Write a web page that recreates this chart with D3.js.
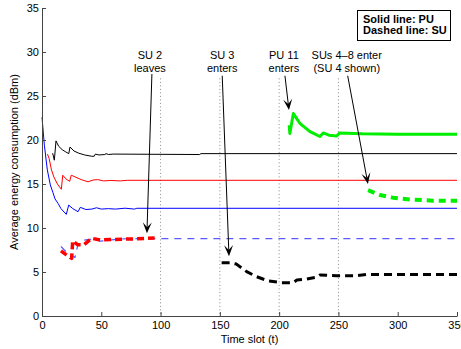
<!DOCTYPE html>
<html>
<head>
<meta charset="utf-8">
<script src="https://cdn.jsdelivr.net/npm/d3@7"></script>
<style>
  body { margin: 0; background: #fff; }
  svg { display: block; font-family: "Liberation Sans", Arial, sans-serif; }
</style>
</head>
<body>
<svg id="chart" width="461" height="349"></svg>
<script>
// values: [time slot, dBm]
var puBlack = [[9,18.5],[10.4,17.7],[11.8,19.9],[14,19.3],[17,18.9],[20,18.65],[22.6,18.45],[23.6,19.2],[27,18.75],[31,18.5],[36,18.3],[42,18.15],[44,18.15],[45,18.4],[48,18.3],[53,18.35],[54,18.45],[56,18.35],[60,18.4],[133,18.35],[134,18.45],[350,18.45]];
var puRed = [[4.6,18.4],[6,17.9],[8,16.6],[10,15.8],[13,15.0],[16.3,14.4],[17.5,16.0],[20,15.6],[23.3,15.3],[24.7,16.0],[28,15.8],[33,15.5],[38.8,15.25],[43,15.45],[47,15.5],[52,15.35],[58,15.4],[66,15.35],[72,15.42],[350,15.42]];
var puBlue = [[0,22.6],[2,19.4],[4.5,16.6],[7,14.9],[9.3,14.0],[11,13.3],[13.5,12.8],[16,12.2],[20.5,11.55],[22.5,12.6],[26,12.2],[30.4,11.85],[32.3,12.35],[37,12.1],[42,12.15],[46,12.3],[50,12.15],[56,12.2],[62,12.15],[70,12.25],[78,12.15],[80,12.24],[350,12.24]];
var puGreen = [[208.5,21.7],[209,20.75],[212,23.0],[217.5,21.9],[226,20.95],[234.4,20.4],[237.2,20.8],[242,20.55],[248.5,20.45],[251,20.8],[270,20.7],[300,20.65],[350,20.65]];
var suBlue = [[16,7.9],[21,7.2],[27.8,6.65],[30,7.95],[34,8.6],[40,8.7],[46,8.75],[49,8.5],[55,8.6],[65,8.75],[80,8.8],[350,8.8]];
var suRed = [[16,7.4],[20,7.0],[25,6.55],[25.9,8.55],[30,8.1],[35,8.07],[41.9,8.83],[49,8.64],[60,8.7],[75,8.75],[95,8.85]];
var suBlack = [[151.5,6.06],[158.5,6.06],[164,5.9],[172.6,5.04],[181,4.47],[190.8,3.98],[202,3.79],[212,3.79],[215,4.1],[223,4.2],[231.6,4.4],[234.4,4.66],[248.5,4.58],[265,4.58],[273.8,4.73],[350,4.73]];
var suGreen = [[275,14.3],[285,13.75],[296,13.45],[310,13.25],[330,13.1],[350,13.1]];

var xTicks = [0, 50, 100, 150, 200, 250, 300, 350];
var yTicks = [0, 5, 10, 15, 20, 25, 30, 35];
var eventSlots = [100, 150, 200, 250];

// annotation: text lines, text anchor (t, v), arrow start and tip (t, v)
var notes = [
  { lines: ["SU 2", "leaves"], at: [91, 29.2], from: [92.7, 27.5], to: [88.5, 9.4] },
  { lines: ["SU 3", "enters"], at: [152, 29.2], from: [152, 27.3], to: [157.7, 6.8] },
  { lines: ["PU 11", "enters"], at: [204, 29.2], from: [204.9, 27.3], to: [208.3, 23.4] },
  { lines: ["SUs 4\u20138 enter", "(SU 4 shown)"], at: [257, 29.2], from: [257.8, 27.3], to: [274.9, 15.0] }
];
var legendLines = ["Solid line: PU", "Dashed line: SU"];

var svg = d3.select("#chart");
var x = d3.scaleLinear().domain([0, 350]).range([42, 457]);
var y = d3.scaleLinear().domain([0, 35]).range([316, 8]);

// event marker lines
svg.selectAll(".evt").data(eventSlots).enter().append("line")
  .attr("x1", function(d) { return x(d); }).attr("x2", function(d) { return x(d); })
  .attr("y1", y(27)).attr("y2", y(0))
  .attr("stroke", "#888").attr("stroke-width", 1).attr("stroke-dasharray", "1,2.5");

var line = d3.line().x(function(d) { return x(d[0]); }).y(function(d) { return y(d[1]); });

var series = [
  { d: suBlue, c: "#5a5aff", w: 1.2, dash: "7,6" },
  { d: puBlack, c: "#000", w: 1, dash: null },
  { d: puRed, c: "#ff0000", w: 1, dash: null },
  { d: puBlue, c: "#0000ff", w: 1, dash: null },
  { d: puGreen, c: "#00ee00", w: 3, dash: null },
  { d: suRed, c: "#ff0000", w: 3.5, dash: "7,4" },
  { d: suBlack, c: "#000", w: 3, dash: "8,5" },
  { d: suGreen, c: "#00ee00", w: 4, dash: "7,5" }
];
svg.selectAll(".series").data(series).enter().append("path")
  .attr("d", function(s) { return line(s.d); })
  .attr("fill", "none")
  .attr("stroke", function(s) { return s.c; })
  .attr("stroke-width", function(s) { return s.w; })
  .attr("stroke-dasharray", function(s) { return s.dash; })
  .attr("stroke-linejoin", "round");

// axes, ticks inward
var xAxis = svg.append("g").attr("transform", "translate(0," + y(0) + ")")
  .call(d3.axisBottom(x).tickValues(xTicks).tickSizeInner(-4).tickSizeOuter(0).tickPadding(5));
var yAxis = svg.append("g").attr("transform", "translate(" + x(0) + ",0)")
  .call(d3.axisLeft(y).tickValues(yTicks).tickSizeInner(-4).tickSizeOuter(0).tickPadding(3));
[xAxis, yAxis].forEach(function(g) {
  g.selectAll("path, line").attr("stroke", "#444");
  g.selectAll("text").attr("font-size", 11).attr("fill", "#000")
    .attr("font-family", "'Liberation Sans', Arial, sans-serif");
});

svg.append("text").attr("x", (x(0) + x(350)) / 2).attr("y", 343)
  .attr("text-anchor", "middle").attr("font-size", 11).text("Time slot (t)");
svg.append("text")
  .attr("transform", "translate(18," + (y(0) + y(35)) / 2 + ") rotate(-90)")
  .attr("text-anchor", "middle").attr("font-size", 11)
  .text("Average energy consumption (dBm)");

// annotations with arrows
notes.forEach(function(n) {
  var t = svg.append("text").attr("text-anchor", "middle").attr("font-size", 11);
  n.lines.forEach(function(s, i) {
    t.append("tspan").attr("x", x(n.at[0])).attr("y", y(n.at[1]) + i * 13).text(s);
  });
  var x1 = x(n.from[0]), y1 = y(n.from[1]), x2 = x(n.to[0]), y2 = y(n.to[1]);
  var dx = x2 - x1, dy = y2 - y1, len = Math.sqrt(dx * dx + dy * dy);
  var ux = dx / len, uy = dy / len, nx = -uy, ny = ux;
  var L = 11, W = 9;
  svg.append("line").attr("x1", x1).attr("y1", y1)
    .attr("x2", x2 - ux * 5).attr("y2", y2 - uy * 5)
    .attr("stroke", "#000").attr("stroke-width", 1);
  var head = [
    [x2, y2],
    [x2 - ux * L + nx * W / 2, y2 - uy * L + ny * W / 2],
    [x2 - ux * L * 0.55, y2 - uy * L * 0.55],
    [x2 - ux * L - nx * W / 2, y2 - uy * L - ny * W / 2]
  ];
  svg.append("path").attr("d", "M" + head.join("L") + "Z").attr("fill", "#000");
});

// legend box
var lg = svg.append("g");
lg.append("rect").attr("x", 357.5).attr("y", 10.5).attr("width", 93).attr("height", 30)
  .attr("fill", "#fff").attr("stroke", "#000").attr("stroke-width", 1);
lg.selectAll("text").data(legendLines).enter().append("text")
  .attr("x", 363).attr("y", function(d, i) { return 23 + i * 10.5; })
  .attr("font-size", 11).attr("font-weight", "bold").text(function(d) { return d; });
</script>
</body>
</html>
